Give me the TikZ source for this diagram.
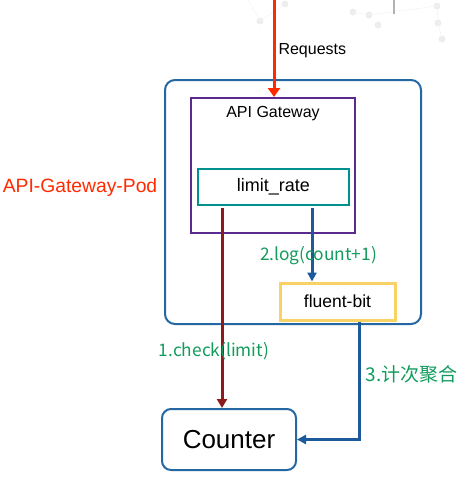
\documentclass[tikz,border=0pt]{standalone}
\usepackage{fontspec}
\setmainfont{Liberation Sans}
\newfontfamily\cjk{Noto Sans CJK SC}
\usepackage{xcolor}
\usetikzlibrary{arrows.meta,shadows}

\definecolor{podblue}{HTML}{2467A3}
\definecolor{gwpurple}{HTML}{5A2A8E}
\definecolor{rateteal}{HTML}{00918F}
\definecolor{fbyellow}{HTML}{F8D264}
\definecolor{reqred}{HTML}{FF2A00}
\definecolor{chkred}{HTML}{8E1B1B}
\definecolor{logblue}{HTML}{1C5A9C}
\definecolor{stepgreen}{HTML}{119C5C}
\definecolor{bgdot}{HTML}{EDEDED}

\tikzset{
    box/.style={draw, inner sep=0pt, line width=2pt},
    steplabel/.style={text=stepgreen, font=\cjk\fontsize{17.3}{21}\selectfont},
    tip/.style={-{Triangle[width=#1, length=9pt]}, line width=3pt},
}

\begin{document}
\begin{tikzpicture}[x=1pt, y=-1pt]
    \useasboundingbox (0,0) rectangle (473,483);

    % faint background dots
    \foreach \x/\y in {260/21, 285/4, 353/12, 369/15, 378/25, 437/6, 438/23, 442/39}
    {
        \fill[bgdot] (\x,\y) circle (3.5pt);
    }
    \draw[bgdot!60, line width=0.6pt] (248,0) -- (260,21) -- (285,4);
    \draw[bgdot!60, line width=0.6pt] (353,12) -- (369,15) -- (437,6) -- (438,23) -- (442,39);
    \draw[black!30, line width=2pt] (394,0) -- (394,14);

    % Pod
    \node[box, draw=podblue, rounded corners=10pt, minimum width=256pt, minimum height=244pt] (pod) at (293,202) {};
    \node[text=reqred, font=\fontsize{19.3}{22}\selectfont] (podlabel) at (80,188) {API-Gateway-Pod};

    % API Gateway with limit_rate
    \node[box, draw=gwpurple, minimum width=164pt, minimum height=135pt] (gateway) at (273,165.5) {};
    \node[font=\fontsize{16}{19}\selectfont] (gwlabel) at (273,114) {API Gateway};
    \node[box, draw=rateteal, minimum width=151pt, minimum height=36pt, font=\fontsize{18}{21}\selectfont] (limit) at (273.5,187) {limit\_rate};

    % fluent-bit and Counter
    \node[box, draw=fbyellow, line width=3pt, fill=white, minimum width=115pt, minimum height=37pt,
          drop shadow={opacity=0.2, shadow xshift=1.5pt, shadow yshift=-1.5pt},
          font=\fontsize{17.5}{20}\selectfont] (fluent) at (337.5,301.5) {fluent-bit};
    \node[box, draw=podblue, rounded corners=9pt, minimum width=134pt, minimum height=61pt,
          font=\fontsize{26}{30}\selectfont] (counter) at (229,439.5) {Counter};

    % Requests
    \coordinate (req) at (274,0);
    \draw[tip=12pt, draw=reqred] (req) -- (req |- gateway.north);
    \node[anchor=west, font=\fontsize{16}{19}\selectfont] (reqlabel) at (275,51) {Requests};

    % 1. check
    \draw[tip=10pt, draw=chkred] ([xshift=-51.5pt, yshift=-2pt]limit.south) -- ([xshift=-7pt]counter.north);
    \node[steplabel] (chklabel) at (214,351) {1.check(limit)};

    % 2. log
    \draw[tip=9pt, draw=logblue] ([xshift=38.5pt, yshift=-2pt]limit.south) -- ([xshift=38.5pt]limit.south |- fluent.north);
    \node[steplabel] (loglabel) at (318.5,256) {2.log(count+1)};

    % 3. aggregate
    \draw[tip=9pt, draw=logblue] ([xshift=21.5pt]fluent.south) |- (counter.east);
    \node[steplabel, anchor=west, font=\cjk\fontsize{19}{22}\selectfont] (agglabel) at (362,374) {3.计次聚合};

\end{tikzpicture}
\end{document}
